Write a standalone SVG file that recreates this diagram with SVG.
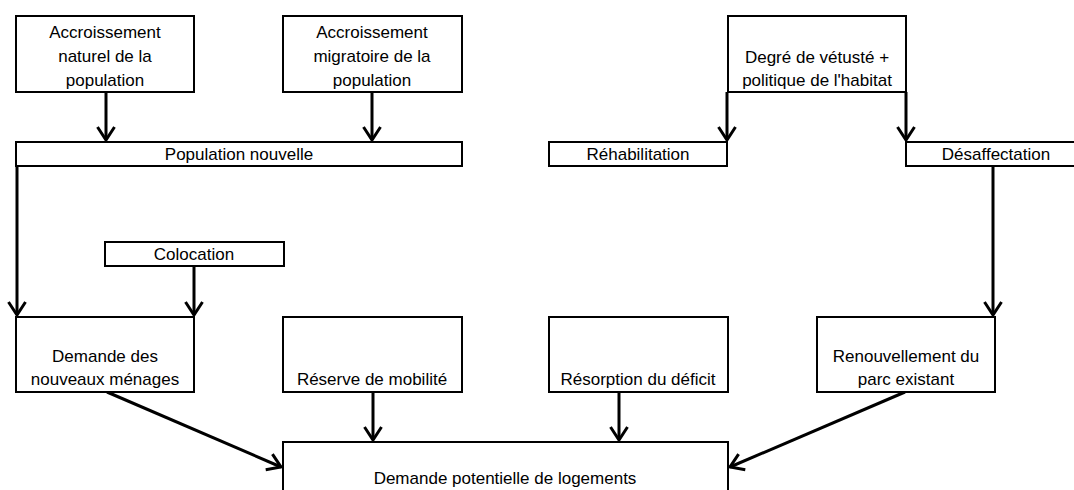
<svg xmlns="http://www.w3.org/2000/svg" width="1074" height="490" viewBox="0 0 1074 490">
<defs>
<style>
.box{fill:#fff;stroke:#000;stroke-width:2}
.t{font-family:"Liberation Sans",Arial,sans-serif;font-size:17px;fill:#000;text-anchor:middle}
.c{fill:none;stroke:#000;stroke-width:3}
</style>
<marker id="ah" markerUnits="userSpaceOnUse" viewBox="-16 -11 18 22" refX="0" refY="0" markerWidth="18" markerHeight="22" orient="auto" overflow="visible">
<path d="M-13,-8.5 L0,0 L-13,8.5" fill="none" stroke="#000" stroke-width="3"/>
</marker>
</defs>
<rect width="1074" height="490" fill="#fff"/>
<g id="connectors">
<line class="c" x1="106" y1="92" x2="106" y2="140" marker-end="url(#ah)"/>
<line class="c" x1="372" y1="92" x2="372" y2="140" marker-end="url(#ah)"/>
<line class="c" x1="727" y1="92" x2="727" y2="140" marker-end="url(#ah)"/>
<line class="c" x1="906" y1="92" x2="906" y2="140" marker-end="url(#ah)"/>
<polyline class="c" points="17,166 17,315" marker-end="url(#ah)"/>
<line class="c" x1="194" y1="266" x2="194" y2="315" marker-end="url(#ah)"/>
<line class="c" x1="993" y1="166" x2="993" y2="315" marker-end="url(#ah)"/>
<line class="c" x1="373" y1="392" x2="373" y2="440" marker-end="url(#ah)"/>
<line class="c" x1="619" y1="392" x2="619" y2="440" marker-end="url(#ah)"/>
<line class="c" x1="107" y1="392" x2="281" y2="467" marker-end="url(#ah)"/>
<line class="c" x1="905" y1="392" x2="730" y2="467" marker-end="url(#ah)"/>
</g>
<g id="n-nat">
<rect class="box" x="16" y="16" width="178" height="76"/>
<text class="t" x="105" y="38">Accroissement</text>
<text class="t" x="105" y="62">naturel de la</text>
<text class="t" x="105" y="86">population</text>
</g>
<g id="n-mig">
<rect class="box" x="283" y="16" width="179" height="76"/>
<text class="t" x="372" y="38">Accroissement</text>
<text class="t" x="372" y="62">migratoire de la</text>
<text class="t" x="372" y="86">population</text>
</g>
<g id="n-deg">
<rect class="box" x="728" y="16" width="178" height="76"/>
<text class="t" x="817" y="63">Degré de vétusté +</text>
<text class="t" x="817" y="86">politique de l'habitat</text>
</g>
<g id="n-pop">
<rect class="box" x="16" y="142" width="446" height="24"/>
<text class="t" x="239" y="160">Population nouvelle</text>
</g>
<g id="n-rehab">
<rect class="box" x="549" y="142" width="178" height="24"/>
<text class="t" x="638" y="160">Réhabilitation</text>
</g>
<g id="n-desaff">
<rect class="box" x="906" y="142" width="180" height="24"/>
<text class="t" x="996" y="160">Désaffectation</text>
</g>
<g id="n-coloc">
<rect class="box" x="105" y="242" width="179" height="24"/>
<text class="t" x="194" y="260">Colocation</text>
</g>
<g id="n-dem">
<rect class="box" x="16" y="317" width="178" height="75"/>
<text class="t" x="105" y="362">Demande des</text>
<text class="t" x="105" y="385">nouveaux ménages</text>
</g>
<g id="n-res">
<rect class="box" x="283" y="317" width="179" height="75"/>
<text class="t" x="372" y="385">Réserve de mobilité</text>
</g>
<g id="n-resorp">
<rect class="box" x="549" y="317" width="179" height="75"/>
<text class="t" x="638" y="385">Résorption du déficit</text>
</g>
<g id="n-renouv">
<rect class="box" x="817" y="317" width="178" height="75"/>
<text class="t" x="906" y="362">Renouvellement du</text>
<text class="t" x="906" y="385">parc existant</text>
</g>
<g id="n-pot">
<rect class="box" x="283" y="442" width="445" height="70"/>
<text class="t" x="505" y="484">Demande potentielle de logements</text>
</g>
</svg>
